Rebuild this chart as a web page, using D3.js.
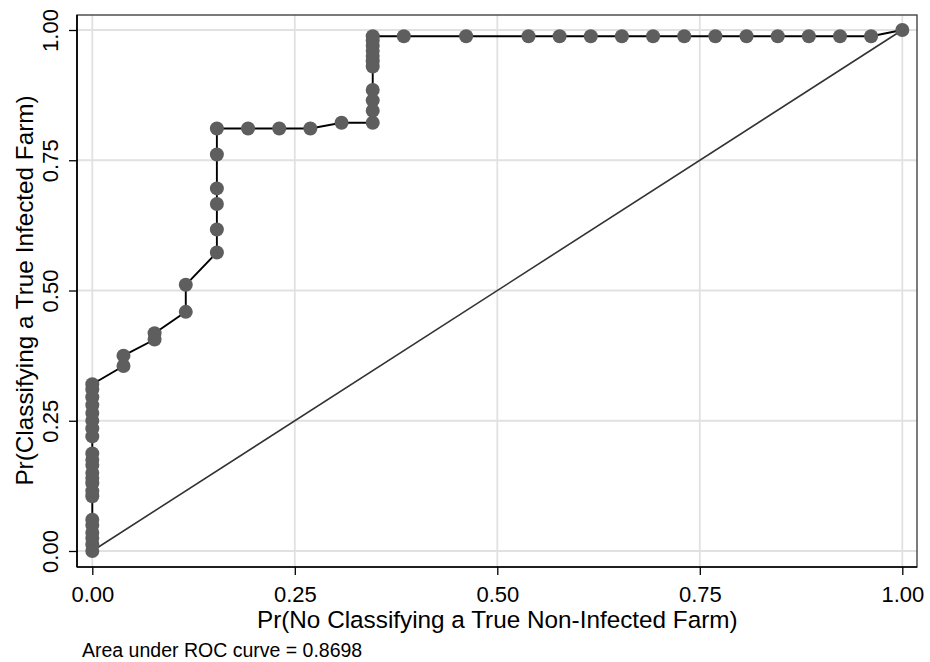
<!DOCTYPE html>
<html>
<head>
<meta charset="utf-8">
<script src="https://cdn.jsdelivr.net/npm/d3@7"></script>
<style>
  body { margin: 0; background: #fff; }
  text { font-family: "Liberation Sans", Arial, sans-serif; fill: #000; }
</style>
</head>
<body>
<div id="roc_chart"></div>
<script>
// 1 - specificity (26 non-infected farms)
const fpr = [
    0, 0, 0, 0, 0, 0,
    0, 0, 0, 0, 0, 0, 0, 0,
    0, 0, 0, 0, 0, 0, 0, 0,
    0.0385, 0.0385,
    0.0769, 0.0769,
    0.1154, 0.1154,
    0.1538, 0.1538, 0.1538, 0.1538, 0.1538, 0.1538,
    0.1923, 0.2308, 0.2692, 0.3077,
    0.3462, 0.3462, 0.3462, 0.3462, 0.3462, 0.3462, 0.3462, 0.3462, 0.3462, 0.3462, 0.3462,
    0.3846, 0.4615, 0.5385, 0.5769, 0.6154, 0.6538, 0.6923, 0.7308, 0.7692, 0.8077,
    0.8462, 0.8846, 0.9231, 0.9615, 1
]
// sensitivity
const tpr = [
    0, 0.0125, 0.025, 0.035, 0.05, 0.06,
    0.105, 0.115, 0.13, 0.14, 0.15, 0.165, 0.175, 0.187,
    0.22, 0.235, 0.25, 0.265, 0.28, 0.295, 0.31, 0.32,
    0.355, 0.375,
    0.406, 0.418,
    0.459, 0.511,
    0.573, 0.617, 0.666, 0.696, 0.761, 0.811,
    0.811, 0.811, 0.811, 0.822,
    0.822, 0.845, 0.865, 0.885, 0.93, 0.94, 0.95, 0.96, 0.97, 0.98, 0.988,
    0.988, 0.988, 0.988, 0.988, 0.988, 0.988, 0.988, 0.988, 0.988, 0.988,
    0.988, 0.988, 0.988, 0.988, 1
]
const referenceLine = [[0, 0], [1, 1]]
const xTicks = [0, 0.25, 0.5, 0.75, 1]
const yTicks = [0, 0.25, 0.5, 0.75, 1]
const xTitle = 'Pr(No Classifying a True Non-Infected Farm)'
const yTitle = 'Pr(Classifying a True Infected Farm)'
const note = 'Area under ROC curve = 0.8698'

const renderRoc = ({htmlComponent}) => {
    const width = 930
    const height = 662
    // plot region box
    const box = { left: 77, right: 917, top: 15, bottom: 567 }

    const svg = d3.select(htmlComponent).append('svg')
        .attr('width', width)
        .attr('height', height)

    const xScale = d3.scaleLinear()
        .domain([0, 1])
        .range([92.3, 902.3])
    const yScale = d3.scaleLinear()
        .domain([0, 1])
        .range([551, 30])

    // grid
    svg.append('g').selectAll('line').data(xTicks)
        .enter().append('line')
            .attr('x1', d => xScale(d))
            .attr('x2', d => xScale(d))
            .attr('y1', box.top)
            .attr('y2', box.bottom)
            .attr('stroke', '#e1e1e1')
            .attr('stroke-width', 1.8)
    svg.append('g').selectAll('line').data(yTicks)
        .enter().append('line')
            .attr('x1', box.left)
            .attr('x2', box.right)
            .attr('y1', d => yScale(d))
            .attr('y2', d => yScale(d))
            .attr('stroke', '#e1e1e1')
            .attr('stroke-width', 1.8)

    svg.append('rect')
        .attr('x', box.left)
        .attr('y', box.top)
        .attr('width', box.right - box.left)
        .attr('height', box.bottom - box.top)
        .attr('fill', 'none')
        .attr('stroke', '#444')
        .attr('stroke-width', 1.4)

    // axes
    const xAxis = svg.append('g')
        .attr('transform', `translate(0, ${box.bottom})`)
        .call(d3.axisBottom(xScale).tickValues(xTicks).tickSize(8).tickFormat(d3.format('.2f')))
    xAxis.select('.domain').remove()
    xAxis.selectAll('line').attr('stroke', '#000').attr('stroke-width', 1.3)
    xAxis.selectAll('text')
        .attr('y', 35)
        .attr('dy', null)
        .attr('fill', '#000')
        .style('font-size', '22px')
        .style('font-family', '"Liberation Sans", Arial, sans-serif')

    const yAxis = svg.append('g')
        .attr('transform', `translate(${box.left}, 0)`)
        .call(d3.axisLeft(yScale).tickValues(yTicks).tickSize(8).tickFormat(d3.format('.2f')))
    yAxis.select('.domain').remove()
    yAxis.selectAll('line').attr('stroke', '#000').attr('stroke-width', 1.3)
    yAxis.selectAll('text')
        .attr('transform', 'rotate(-90)')
        .attr('x', 0)
        .attr('y', -19)
        .attr('dy', null)
        .attr('text-anchor', 'middle')
        .attr('fill', '#000')
        .style('font-size', '22px')
        .style('font-family', '"Liberation Sans", Arial, sans-serif')

    svg.append('line')
        .attr('x1', box.left).attr('x2', box.right)
        .attr('y1', box.bottom).attr('y2', box.bottom)
        .attr('stroke', '#000').attr('stroke-width', 1.7)
    svg.append('line')
        .attr('x1', box.left).attr('x2', box.left)
        .attr('y1', box.top).attr('y2', box.bottom)
        .attr('stroke', '#000').attr('stroke-width', 1.7)

    // titles
    svg.append('text')
        .attr('x', xScale(0.5))
        .attr('y', 628)
        .attr('text-anchor', 'middle')
        .style('font-size', '24.3px')
        .text(xTitle)
    svg.append('text')
        .attr('transform', `translate(33, ${yScale(0.5)}) rotate(-90)`)
        .attr('text-anchor', 'middle')
        .style('font-size', '24.3px')
        .text(yTitle)
    svg.append('text')
        .attr('x', 82)
        .attr('y', 657)
        .style('font-size', '19.5px')
        .text(note)

    // reference line
    const line = d3.line()
        .x(d => xScale(d[0]))
        .y(d => yScale(d[1]))
    svg.append('path')
        .datum(referenceLine)
        .attr('d', line)
        .attr('fill', 'none')
        .attr('stroke', '#333')
        .attr('stroke-width', 1.6)

    // roc curve
    const points = fpr.map((x, i) => [x, tpr[i]])
    svg.append('path')
        .datum(points)
        .attr('d', line)
        .attr('fill', 'none')
        .attr('stroke', '#000')
        .attr('stroke-width', 1.9)

    svg.append('g').selectAll('circle').data(points)
        .enter()
            .append('circle')
                .attr('cx', d => xScale(d[0]))
                .attr('cy', d => yScale(d[1]))
                .attr('r', 7)
                .attr('fill', '#5e5e5e')
}

renderRoc({ htmlComponent: '#roc_chart' })
</script>
</body>
</html>
